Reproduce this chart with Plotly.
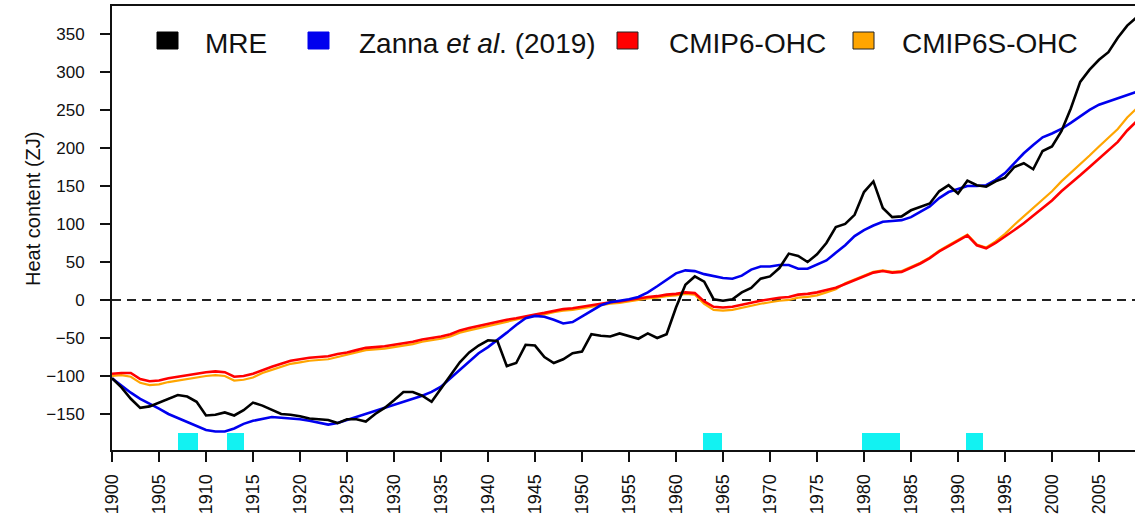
import plotly.graph_objects as go

years = list(range(1900, 2010))

mre = [-103, -115, -130, -142, -140, -135, -129, -125, -127, -134,
       -152, -151, -148, -152, -145, -135, -139, -145, -150, -151,
       -153, -156, -157, -158, -162, -157, -157, -160, -150, -142,
       -132, -121, -121, -126, -134, -117, -99, -82, -69, -60,
       -53, -54, -87, -83, -59, -60, -75, -83, -78, -70,
       -68, -45, -47, -48, -44, -47, -51, -44, -50, -45,
       -10, 20, 31, 24, 1, -1, 1, 10, 16, 28,
       31, 42, 61, 58, 50, 60, 75, 96, 100, 112,
       142, 156, 121, 109, 110, 118, 122, 127, 143, 151,
       140, 157, 151, 149, 156, 161, 175, 180, 172, 196,
       202, 222, 252, 287, 303, 316, 326, 345, 361, 372]

zanna = [-103, -113, -122, -130, -136, -143, -150, -155, -161, -166,
         -171, -173, -173, -169, -163, -159, -156, -154, -155, -156,
         -157, -159, -162, -164, -162, -158, -154, -151, -147, -142,
         -138, -134, -130, -126, -121, -114, -103, -92, -81, -70,
         -62, -53, -43, -33, -24, -21, -22, -26, -31, -29,
         -22, -14, -7, -3, -1, 1, 4, 10, 18, 27,
         35, 39, 38, 34, 31, 29, 28, 32, 40, 44,
         44, 46, 46, 41, 41, 46, 52, 62, 72, 84,
         92, 98, 103, 104, 105, 109, 116, 123, 134, 142,
         146, 150, 150, 151, 158, 167, 180, 193, 204, 214,
         219, 225, 233, 242, 250, 257, 261, 265, 270, 274]

cmip6 = [-97, -96, -96, -104, -107, -106, -103, -101, -99, -97,
         -95, -94, -95, -101, -100, -97, -92, -88, -84, -80,
         -78, -76, -75, -74, -71, -69, -66, -63, -62, -61,
         -59, -57, -55, -52, -50, -48, -45, -40, -37, -34,
         -31, -28, -26, -24, -21, -19, -17, -14, -12, -11,
         -9, -7, -5, -3, -2, 0, 2, 4, 5, 7,
         8, 10, 9, -2, -9, -10, -9, -6, -3, -1,
         1, 3, 4, 7, 8, 10, 13, 16, 21, 26,
         31, 36, 38, 36, 37, 42, 48, 55, 64, 71,
         78, 85, 72, 68, 75, 83, 92, 101, 111, 121,
         131, 143, 153, 164, 175, 186, 197, 208, 223, 235]

cmip6s = [-100, -99, -101, -109, -112, -111, -108, -106, -104, -102,
          -100, -99, -100, -106, -105, -102, -96, -92, -88, -84,
          -82, -80, -79, -78, -75, -72, -69, -66, -65, -64,
          -62, -60, -58, -55, -53, -51, -48, -43, -40, -37,
          -34, -31, -29, -26, -23, -21, -19, -16, -14, -13,
          -11, -9, -7, -5, -4, -2, 0, 2, 3, 5,
          6, 8, 7, -5, -13, -14, -13, -10, -7, -5,
          -3, -1, 0, 3, 4, 6, 10, 14, 22, 27,
          32, 37, 39, 37, 38, 43, 49, 56, 65, 72,
          79, 86, 73, 69, 77, 87, 99, 110, 121, 132,
          143, 156, 167, 179, 190, 202, 213, 225, 240, 252]

volc_start = [1907.0, 1912.2, 1962.9, 1979.8, 1990.8]
volc_end = [1909.1, 1914.0, 1964.9, 1983.8, 1992.7]

y_ticks = [-150, -100, -50, 0, 50, 100, 150, 200, 250, 300, 350]
x_ticks = list(range(1900, 2010, 5))

legend_names = ["MRE", "Zanna <i>et al</i>. (2019)", "CMIP6-OHC", "CMIP6S-OHC"]
legend_colors = ["#000000", "#0000EE", "#FF0000", "#FFA500"]

W, H = 1135, 514
ML, MR, MT, MB = 112, 0, 6, 64
PW, PH = W - ML - MR, H - MT - MB
YMIN, YMAX = -197.4, 386.8


def px(x):
    return (x - ML) / PW


def py(y):
    return (H - MB - y) / PH


fig = go.Figure()

fig.add_trace(go.Bar(
    x=[(a + b) / 2 for a, b in zip(volc_start, volc_end)],
    width=[b - a for a, b in zip(volc_start, volc_end)],
    y=[22.4] * len(volc_start), base=YMIN,
    marker=dict(color="#12F2F2", line=dict(width=0)),
    showlegend=False, hoverinfo="skip"))

fig.add_trace(go.Scatter(x=years, y=cmip6s, mode="lines",
                         line=dict(color="#FFA500", width=2.2), showlegend=False))
fig.add_trace(go.Scatter(x=years, y=cmip6, mode="lines",
                         line=dict(color="#FF0000", width=2.6), showlegend=False))
fig.add_trace(go.Scatter(x=years, y=zanna, mode="lines",
                         line=dict(color="#0000EE", width=2.6), showlegend=False))
fig.add_trace(go.Scatter(x=years, y=mre, mode="lines",
                         line=dict(color="#000000", width=2.6), showlegend=False))

shapes = [dict(type="line", xref="paper", yref="y", x0=0, x1=1, y0=0, y1=0,
               line=dict(color="#222222", width=2, dash="9px,6px"), layer="below")]

# manual legend
sq_left = [157, 308, 617, 853]
txt_left = [203, 357, 667, 900]
annotations = []
for i in range(4):
    shapes.append(dict(type="rect", xref="paper", yref="paper",
                       x0=px(sq_left[i]), x1=px(sq_left[i] + 21),
                       y0=py(49), y1=py(32),
                       fillcolor=legend_colors[i],
                       line=dict(color="#222222" if i >= 2 else legend_colors[i], width=1)))
    annotations.append(dict(xref="paper", yref="paper", x=px(txt_left[i]), y=py(43),
                            xanchor="left", yanchor="middle", showarrow=False,
                            text=legend_names[i],
                            font=dict(size=28, color="#111111",
                                      family="Liberation Sans, Arial, sans-serif")))

annotations.append(dict(xref="paper", yref="paper", x=px(33), y=py(209),
                        xanchor="center", yanchor="middle", showarrow=False,
                        textangle=-90, text="Heat content (ZJ)",
                        font=dict(size=20, color="#111111",
                                  family="Liberation Sans, Arial, sans-serif")))

fig.update_layout(
    width=W, height=H,
    margin=dict(l=ML, r=MR, t=MT, b=MB, pad=0, autoexpand=False),
    paper_bgcolor="white", plot_bgcolor="white",
    font=dict(family="Liberation Sans, Arial, sans-serif", size=17, color="#111111"),
    shapes=shapes, annotations=annotations, showlegend=False,
    bargap=0,
    xaxis=dict(range=[1900, 1900 + PW / 9.4], tickvals=x_ticks,
               ticktext=[str(v) for v in x_ticks], tickangle=-90,
               ticks="outside", ticklen=10, tickwidth=1.5, tickcolor="#111111",
               showline=True, linecolor="#111111", linewidth=2, mirror=True,
               showgrid=False, zeroline=False, tickfont=dict(size=18),
               ticklabelstandoff=5, automargin=False),
    yaxis=dict(range=[YMIN, YMAX], tickvals=y_ticks,
               ticks="outside", ticklen=10, tickwidth=1.5, tickcolor="#111111",
               showline=True, linecolor="#111111", linewidth=2,
               showgrid=False, zeroline=False, tickfont=dict(size=17),
               ticklabelstandoff=12, automargin=False),
)

fig.write_html("out.html",
               config={"displayModeBar": False},
               post_script="document.body.style.margin='0';"
                           "document.body.style.overflow='hidden';")
